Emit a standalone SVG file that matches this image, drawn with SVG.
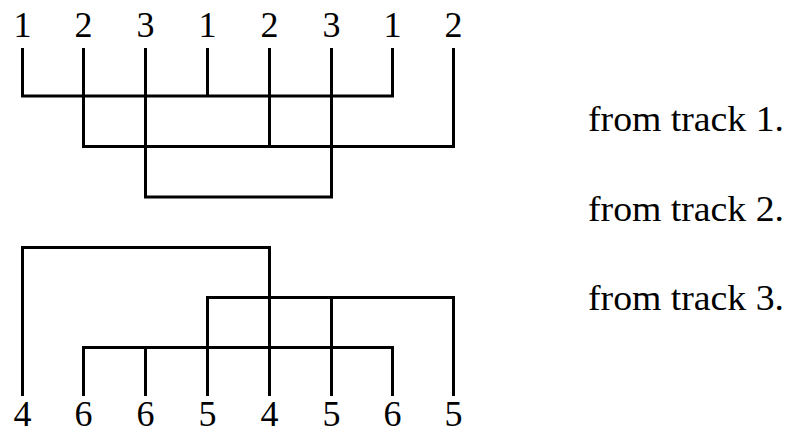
<svg xmlns="http://www.w3.org/2000/svg" width="793" height="439" viewBox="0 0 793 439">
<style>
.d{font-family:"Liberation Serif","Times New Roman",serif;font-size:36px;fill:#000;text-anchor:middle}
.t{font-family:"Liberation Serif","Times New Roman",serif;font-size:36px;fill:#000}
.c{fill:none;stroke:#000;stroke-width:3;stroke-linejoin:miter}
</style>
<rect width="793" height="439" fill="#fff"/>
<g id="connectors">
<path class="c" d="M22.5 48V96H392.5V48M207.5 48V96"/>
<path class="c" d="M83.5 48V146.5H453.5V48M269.5 48V146.5"/>
<path class="c" d="M145.5 48V197H331.5V48"/>
<path class="c" d="M22.5 396V247.5H269.5V396"/>
<path class="c" d="M207.5 396V297.5H453.5V396M331.5 396V297.5"/>
<path class="c" d="M83.5 396V347.5H392.5V396M145.5 396V347.5"/>
</g>
<g id="top1"><text class="d" x="22.5" y="37">1</text></g>
<g id="top2"><text class="d" x="83.5" y="37">2</text></g>
<g id="top3"><text class="d" x="145.5" y="37">3</text></g>
<g id="top4"><text class="d" x="207.5" y="37">1</text></g>
<g id="top5"><text class="d" x="269.5" y="37">2</text></g>
<g id="top6"><text class="d" x="331.5" y="37">3</text></g>
<g id="top7"><text class="d" x="392.5" y="37">1</text></g>
<g id="top8"><text class="d" x="453.5" y="37">2</text></g>
<g id="bot1"><text class="d" x="22.5" y="426">4</text></g>
<g id="bot2"><text class="d" x="83.5" y="426">6</text></g>
<g id="bot3"><text class="d" x="145.5" y="426">6</text></g>
<g id="bot4"><text class="d" x="207.5" y="426">5</text></g>
<g id="bot5"><text class="d" x="269.5" y="426">4</text></g>
<g id="bot6"><text class="d" x="331.5" y="426">5</text></g>
<g id="bot7"><text class="d" x="392.5" y="426">6</text></g>
<g id="bot8"><text class="d" x="453.5" y="426">5</text></g>
<g id="label1"><text class="t" x="588" y="131" textLength="196" lengthAdjust="spacingAndGlyphs">from track 1.</text></g>
<g id="label2"><text class="t" x="588" y="221" textLength="196" lengthAdjust="spacingAndGlyphs">from track 2.</text></g>
<g id="label3"><text class="t" x="588" y="310" textLength="196" lengthAdjust="spacingAndGlyphs">from track 3.</text></g>
</svg>
